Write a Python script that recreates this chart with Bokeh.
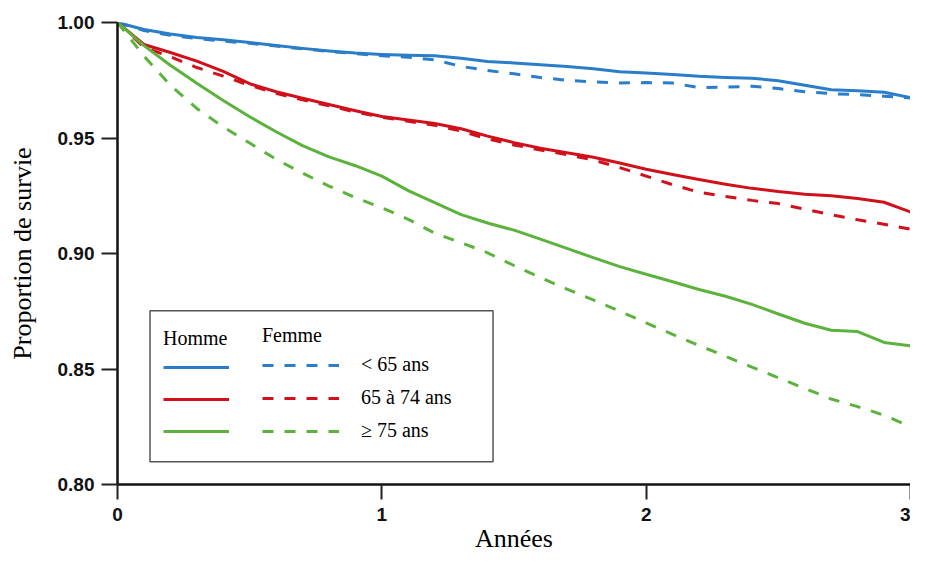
from bokeh.plotting import figure
from bokeh.models import Range1d, FixedTicker, Legend, LegendItem, BoxAnnotation
from bokeh.embed import file_html
from bokeh.resources import INLINE

# ---------------- data ----------------
years = [0.0, 0.1, 0.2, 0.3, 0.4, 0.5, 0.6, 0.7, 0.8, 0.9,
         1.0, 1.1, 1.2, 1.3, 1.4, 1.5, 1.6, 1.7, 1.8, 1.9,
         2.0, 2.1, 2.2, 2.3, 2.4, 2.5, 2.6, 2.7, 2.8, 2.9, 3.0]

homme_lt65 = [1.0000, 0.9970, 0.9950, 0.9935, 0.9925, 0.9913, 0.9900, 0.9888, 0.9877, 0.9868,
              0.9862, 0.9858, 0.9856, 0.9845, 0.9831, 0.9825, 0.9817, 0.9809, 0.9800, 0.9787,
              0.9781, 0.9775, 0.9767, 0.9762, 0.9759, 0.9748, 0.9728, 0.9709, 0.9705, 0.9698, 0.9675]
femme_lt65 = [1.0000, 0.9965, 0.9945, 0.9930, 0.9920, 0.9910, 0.9898, 0.9886, 0.9875, 0.9865,
              0.9856, 0.9850, 0.9838, 0.9810, 0.9792, 0.9778, 0.9762, 0.9750, 0.9743, 0.9738,
              0.9740, 0.9738, 0.9718, 0.9720, 0.9724, 0.9714, 0.9700, 0.9692, 0.9688, 0.9681, 0.9673]
homme_65_74 = [1.0000, 0.9905, 0.9870, 0.9833, 0.9788, 0.9735, 0.9700, 0.9672, 0.9645, 0.9618,
               0.9593, 0.9578, 0.9563, 0.9540, 0.9508, 0.9480, 0.9456, 0.9436, 0.9417, 0.9392,
               0.9365, 0.9342, 0.9320, 0.9300, 0.9282, 0.9268, 0.9257, 0.9250, 0.9238, 0.9222, 0.9180]
femme_65_74 = [1.0000, 0.9893, 0.9852, 0.9805, 0.9768, 0.9728, 0.9693, 0.9665, 0.9640, 0.9612,
               0.9590, 0.9572, 0.9555, 0.9530, 0.9496, 0.9470, 0.9448, 0.9428, 0.9405, 0.9372,
               0.9335, 0.9298, 0.9265, 0.9247, 0.9230, 0.9216, 0.9192, 0.9168, 0.9146, 0.9127, 0.9105]
homme_ge75 = [1.0000, 0.9900, 0.9815, 0.9737, 0.9662, 0.9592, 0.9527, 0.9467, 0.9418, 0.9380,
              0.9335, 0.9272, 0.9220, 0.9168, 0.9132, 0.9101, 0.9062, 0.9022, 0.8982, 0.8943,
              0.8910, 0.8878, 0.8844, 0.8815, 0.8780, 0.8738, 0.8698, 0.8668, 0.8662, 0.8615, 0.8600]
femme_ge75 = [1.0000, 0.9855, 0.9728, 0.9628, 0.9548, 0.9478, 0.9408, 0.9348, 0.9292, 0.9242,
              0.9198, 0.9148, 0.9088, 0.9047, 0.9003, 0.8948, 0.8896, 0.8846, 0.8799, 0.8750,
              0.8700, 0.8650, 0.8602, 0.8555, 0.8508, 0.8462, 0.8416, 0.8370, 0.8337, 0.8300, 0.8250]

age_groups = ["< 65 ans", "65 à 74 ans", "\u2265 75 ans"]
sex_titles = ["Homme", "Femme"]
group_colors = ["#2a7dc8", "#d0101a", "#5bb33d"]

x_ticks = [0, 1, 2, 3]
x_tick_labels = ["0", "1", "2", "3"]
y_ticks = [0.80, 0.85, 0.90, 0.95, 1.00]
y_tick_labels = ["0.80", "0.85", "0.90", "0.95", "1.00"]

x_label = "Années"
y_label = "Proportion de survie"

# ---------------- figure ----------------
p = figure(width=910, height=555, output_backend="svg", toolbar_location=None,
           x_range=Range1d(0, 3), y_range=Range1d(0.80, 1.00),
           min_border_left=117, min_border_right=0, min_border_top=22, min_border_bottom=70)
p.outline_line_color = None
p.grid.visible = False
p.background_fill_color = "white"
p.border_fill_color = "white"

for ax, ticks, labels in ((p.xaxis[0], x_ticks, x_tick_labels), (p.yaxis[0], y_ticks, y_tick_labels)):
    ax.ticker = FixedTicker(ticks=ticks)
    ax.major_label_overrides = {t: l for t, l in zip(ticks, labels)}
    ax.minor_tick_line_color = None
    ax.major_tick_in = 0
    ax.major_tick_line_width = 2
    ax.major_tick_line_color = "#222222"
    ax.axis_line_width = 2.5
    ax.axis_line_color = "#111111"
    ax.major_label_text_font = "Liberation Sans"
    ax.major_label_text_font_style = "bold"
    ax.major_label_text_font_size = "19px"
    ax.major_label_text_color = "#111111"
    ax.axis_label_text_font = "Liberation Serif"
    ax.axis_label_text_font_style = "normal"
    ax.axis_label_text_font_size = "26px"
    ax.axis_label_text_color = "black"

p.xaxis.axis_label = x_label
p.yaxis.axis_label = y_label
p.xaxis.major_tick_out = 15
p.yaxis.major_tick_out = 16
p.xaxis.major_label_standoff = 8
p.yaxis.major_label_standoff = 7
p.xaxis.axis_label_standoff = 0
p.yaxis.axis_label_standoff = 18

homme_series = [homme_lt65, homme_65_74, homme_ge75]
femme_series = [femme_lt65, femme_65_74, femme_ge75]

solid_r, dashed_r = [], []
for i in range(3):
    rs = p.line(years, homme_series[i], line_color=group_colors[i], line_width=3,
                line_join="round")
    rd = p.line(years, femme_series[i], line_color=group_colors[i], line_width=3,
                line_dash="11 11")
    solid_r.append(rs)
    dashed_r.append(rd)

# legend frame
frame_box = BoxAnnotation(left=0.1230, right=1.4207, top=0.8752, bottom=0.8099,
                          fill_color=None, fill_alpha=0, line_color="#555555",
                          line_alpha=1, line_width=1.5)
p.add_layout(frame_box)


def make_legend(title, items, loc, glyph_w, standoff):
    leg = Legend(items=items, title=title, location=loc,
                 glyph_width=glyph_w, glyph_height=22, label_height=22,
                 spacing=10, padding=0, margin=0, label_standoff=standoff,
                 title_standoff=6,
                 background_fill_alpha=0, border_line_color=None,
                 label_text_font="Liberation Serif", label_text_font_size="20px",
                 label_text_color="black",
                 title_text_font="Liberation Serif", title_text_font_size="20px",
                 title_text_font_style="normal", title_text_color="black")
    return leg


homme_items = [LegendItem(label=" ", renderers=[r]) for r in solid_r]
femme_items = [LegendItem(label=age_groups[i], renderers=[dashed_r[i]]) for i in range(3)]

p.add_layout(make_legend(sex_titles[0], homme_items, (46, 42), 66, 5))
p.add_layout(make_legend(sex_titles[1], femme_items, (145, 42), 77, 22))

open("out.html", "w").write(file_html(p, INLINE))
